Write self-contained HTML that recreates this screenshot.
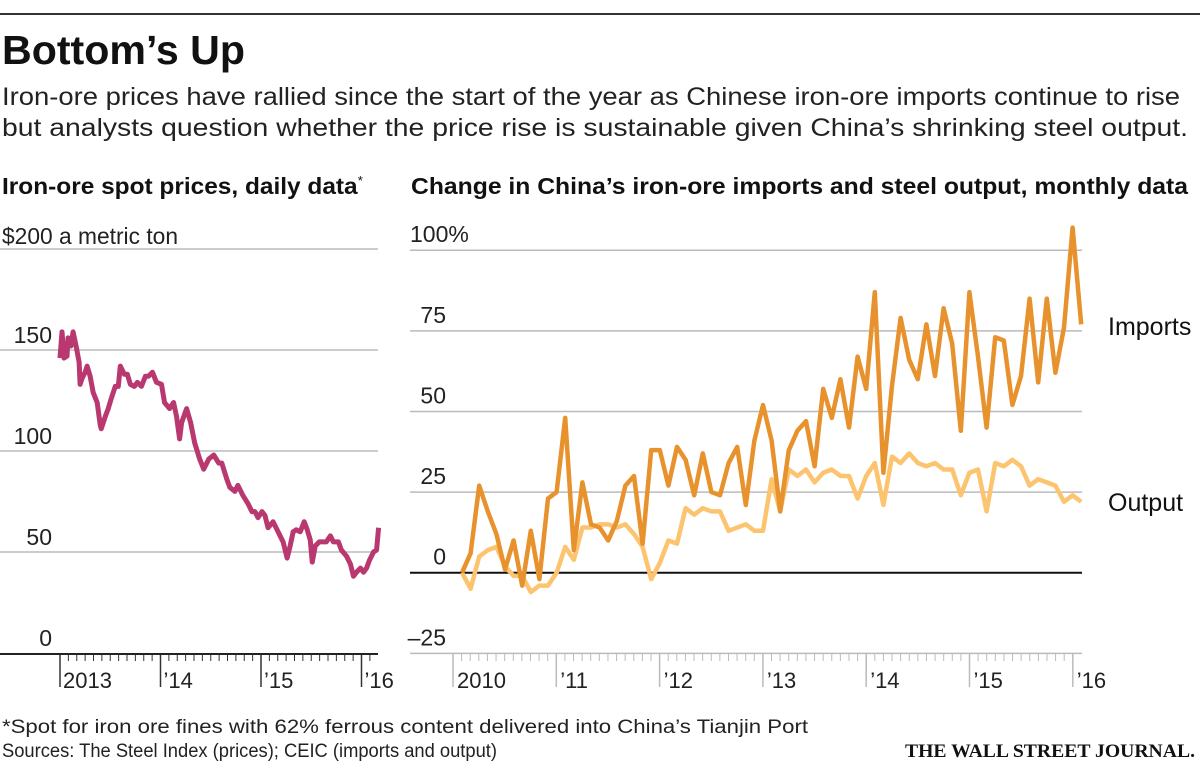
<!DOCTYPE html>
<html><head><meta charset="utf-8"><style>
html,body{margin:0;padding:0;background:#fff;width:1200px;height:766px;overflow:hidden}
svg{display:block;font-family:"Liberation Sans",sans-serif}
</style></head><body>
<svg id="chart" width="1200" height="766" viewBox="0 0 1200 766">
<line x1="0" y1="14" x2="1200" y2="14" stroke="#333" stroke-width="2"/>
<text x="2" y="64" font-size="41" font-weight="bold" textLength="243" lengthAdjust="spacingAndGlyphs" fill="#111">Bottom’s Up</text>
<text x="2" y="105" font-size="25" textLength="1178" lengthAdjust="spacingAndGlyphs" fill="#222">Iron-ore prices have rallied since the start of the year as Chinese iron-ore imports continue to rise</text>
<text x="2" y="136" font-size="25" textLength="1186" lengthAdjust="spacingAndGlyphs" fill="#222">but analysts question whether the price rise is sustainable given China’s shrinking steel output.</text>
<text x="2" y="194" font-size="23" font-weight="bold" textLength="361" lengthAdjust="spacingAndGlyphs" fill="#111">Iron-ore spot prices, daily data<tspan font-size="13" dy="-9" font-weight="normal">*</tspan></text>
<text x="411" y="194" font-size="23" font-weight="bold" textLength="777" lengthAdjust="spacingAndGlyphs" fill="#111">Change in China’s iron-ore imports and steel output, monthly data</text>
<g id="left"></g>
<g id="right"></g>
<text x="2" y="733" font-size="19" textLength="806" lengthAdjust="spacingAndGlyphs" fill="#222">*Spot for iron ore fines with 62% ferrous content delivered into China’s Tianjin Port</text>
<text x="2" y="757" font-size="19" textLength="495" lengthAdjust="spacingAndGlyphs" fill="#222">Sources: The Steel Index (prices); CEIC (imports and output)</text>
<text x="1195" y="757" font-size="19" font-weight="bold" text-anchor="end" textLength="290" lengthAdjust="spacingAndGlyphs" font-family="Liberation Serif,serif" fill="#111">THE WALL STREET JOURNAL.</text>
</svg>
<script>
// Left chart data: year offsets from 2013 and price in $/metric ton
const priceDates=[0,.02,.04,.07,.08,.11,.13,.16,.19,.20,.22,.25,.27,.30,.33,.37,.40,.41,.45,.48,.51,.55,.58,.60,.64,.67,.70,.74,.77,.81,.85,.88,.92,.96,1.01,1.04,1.09,1.13,1.16,1.19,1.21,1.26,1.30,1.34,1.39,1.43,1.48,1.53,1.58,1.61,1.66,1.69,1.74,1.77,1.82,1.87,1.91,1.94,1.97,2.01,2.04,2.07,2.12,2.16,2.19,2.22,2.26,2.29,2.32,2.35,2.39,2.43,2.46,2.49,2.51,2.54,2.58,2.61,2.65,2.69,2.72,2.77,2.80,2.85,2.89,2.92,2.95,2.99,3.02,3.05,3.08,3.12,3.15,3.17];
const priceValues=[146,159,146,147,156,152,159,152,144,133,136,139,142,137,129,124,113,111,117,121,126,132,132,142,138,138,133,132,134,132,137,137,139,134,133,124,121,124,117,106,114,121,114,104,96,91,96,98,94,94,86,82,80,83,78,74,70,70,67,70,68,62,65,61,58,55,47,53,60,61,60,65,61,56,45,53,55,55,55,58,55,55,51,48,44,38,40,42,40,42,46,50,51,62];
const priceTicks=[0,50,100,150,200];
const priceTickLabels=["0","50","100","150","$200 a metric ton"];
const leftYears=[0,1,2,3];
const leftYearLabels=["2013","’14","’15","’16"];
// Right chart data: monthly from Jan 2010, % change
const importsValues=[0,6,27,19,12,1,10,-4,13,-2,23,25,48,7,28,15,14,10,16,27,30,9,38,38,27,39,35,24,37,25,24,34,39,21,41,52,41,19,38,44,47,33,57,48,60,45,67,57,87,31,58,79,66,60,77,61,82,71,44,87,67,45,73,72,52,61,85,59,85,62,76,107,77];
const outputValues=[0,-5,5,7,8,2,-1,-1,-6,-4,-4,0,8,4,14,14,15,15,14,15,12,8,-2,3,10,9,20,18,20,19,19,13,14,15,13,13,29,19,32,30,32,28,31,32,30,30,23,30,34,21,36,34,37,34,33,34,32,32,24,31,32,19,34,33,35,33,27,29,28,27,22,24,22];
const pctTicks=[-25,0,25,50,75,100];
const pctTickLabels=["–25","0","25","50","75","100%"];
const rightYears=[0,1,2,3,4,5,6];
const rightYearLabels=["2010","’11","’12","’13","’14","’15","’16"];

const NS="http://www.w3.org/2000/svg";
function mk(tag,attrs,parent){const e=document.createElementNS(NS,tag);for(const k in attrs)e.setAttribute(k,attrs[k]);parent.appendChild(e);return e;}

// left axes
const lx=t=>60+t*100.5;
const ly=v=>653-v*2.02;
const L=document.getElementById('left');
priceTicks.forEach((v,i)=>{
  if(v>0){const g=mk('line',{x1:0,x2:378,y1:ly(v),y2:ly(v),stroke:'#bbb','stroke-width':1.5},L);
  
  }
  const t=mk('text',{x:v===200?2:52,y:v===200?244:ly(v)-7,'font-size':23,'text-anchor':v===200?'start':'end',fill:'#222'},L);
  if(v===200){t.setAttribute('textLength','176');t.setAttribute('lengthAdjust','spacingAndGlyphs');}
  t.textContent=priceTickLabels[i];
  
  
});
for(let m=0;m<=37;m++){
  const maj=m%12===0;
  const tk=mk('line',{x1:lx(m/12),x2:lx(m/12),y1:653,y2:maj?687:661,stroke:'#333','stroke-width':maj?1.5:1},L);
  
  
}
const lax=mk('line',{x1:0,x2:378,y1:654,y2:654,stroke:'#222','stroke-width':2},L);


leftYears.forEach((y,i)=>{
  const t=mk('text',{x:lx(y)+3,y:688,'font-size':22,fill:'#222'},L);
  t.textContent=leftYearLabels[i];
  
  
});
const pl=mk('polyline',{points:priceDates.map((d,i)=>lx(d)+','+ly(priceValues[i])).join(' '),fill:'none',stroke:'#b8386f','stroke-width':5,'stroke-linejoin':'round'},L);



// right axes
const rx=i=>462+i*8.6;
const ryr=y=>453+y*103.3;
const ry=v=>572.7-v*3.225;
const R=document.getElementById('right');
pctTicks.forEach((v,i)=>{
  const g=mk('line',{x1:410,x2:1082,y1:ry(v),y2:ry(v),stroke:v===0?'#111':'#bbb','stroke-width':v===0?2:1.5},R);
  
  
  const t=mk('text',{x:v===100?410:446,y:ry(v)-8,'font-size':23,'text-anchor':v===100?'start':'end',fill:'#222'},R);
  t.textContent=pctTickLabels[i];
  
  
});
for(let m=0;m<=72;m++){
  const maj=m%12===0;
  const tk=mk('line',{x1:ryr(m/12),x2:ryr(m/12),y1:653,y2:maj?687:661,stroke:'#bbb','stroke-width':maj?1.5:1},R);
  
  
}
rightYears.forEach((y,i)=>{
  const t=mk('text',{x:ryr(y)+4,y:688,'font-size':22,fill:'#222'},R);
  t.textContent=rightYearLabels[i];
  
  
});
const ol=mk('polyline',{points:outputValues.map((v,i)=>rx(i)+','+ry(v)).join(' '),fill:'none',stroke:'#fcc46f','stroke-width':4.5,'stroke-linejoin':'round'},R);


const il=mk('polyline',{points:importsValues.map((v,i)=>rx(i)+','+ry(v)).join(' '),fill:'none',stroke:'#e8922e','stroke-width':4.5,'stroke-linejoin':'round'},R);


const li=mk('text',{x:1108,y:335,'font-size':25,fill:'#111'},R);
li.textContent='Imports';


const lo=mk('text',{x:1108,y:511,'font-size':25,fill:'#111'},R);
lo.textContent='Output';


</script>
</body></html>
